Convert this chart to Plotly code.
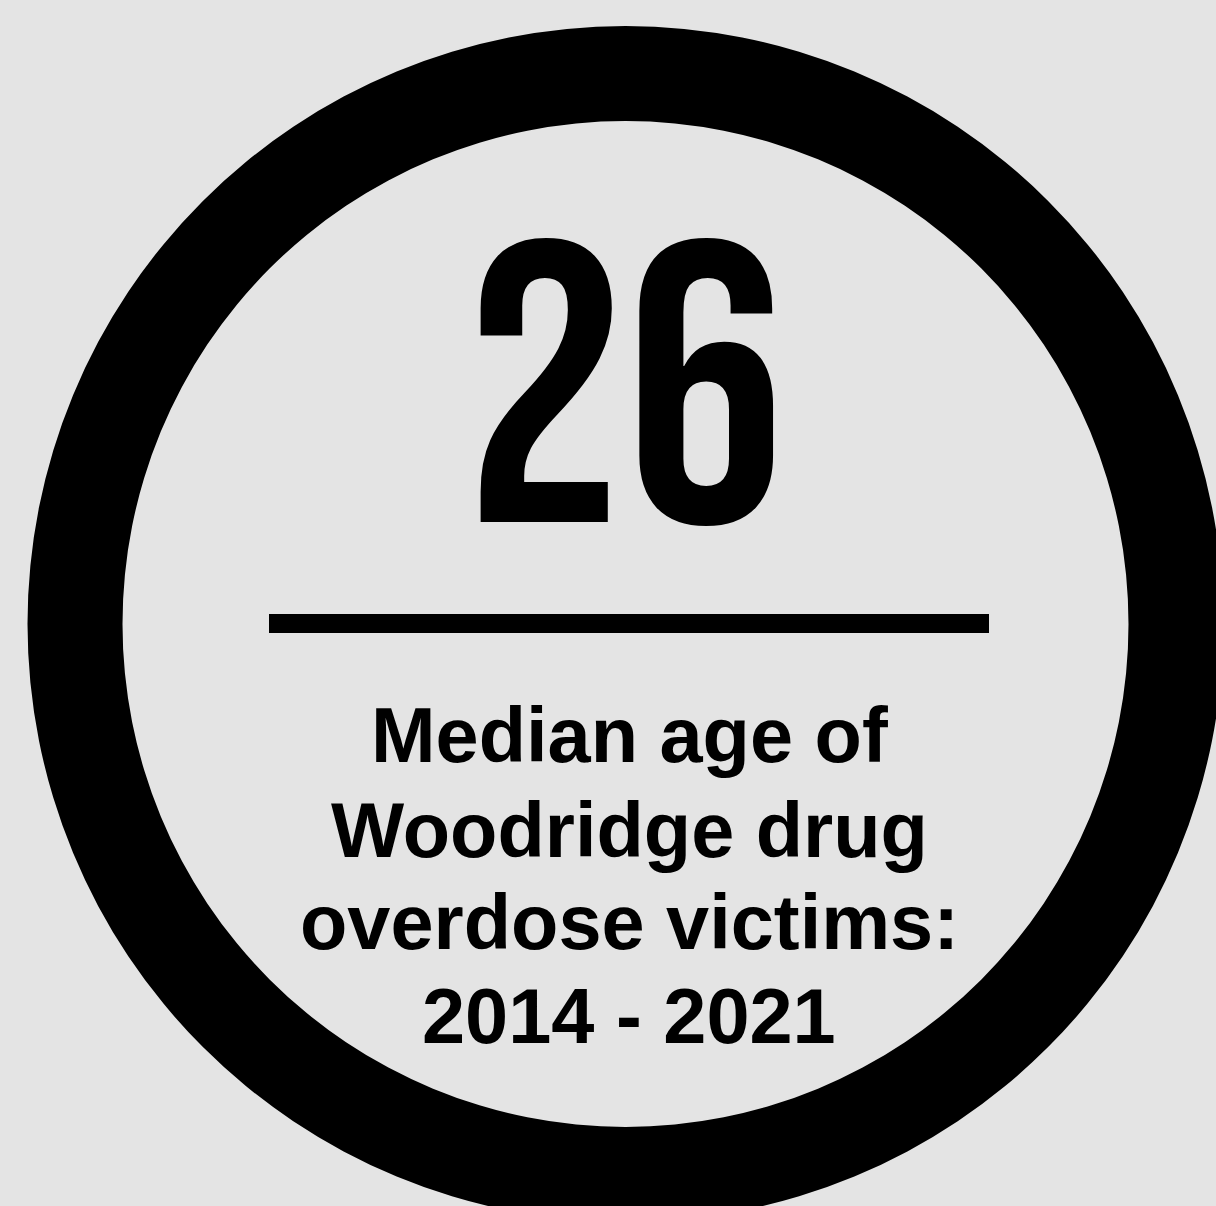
import plotly.graph_objects as go

# ---- data ----
stat_value = ["26"]
label_lines = ["Median age of", "Woodridge drug", "overdose victims:", "2014 - 2021"]
W, H = 1216, 1206
bg = "#e4e4e4"

fig = go.Figure()

# ring (outer black disc + inner background disc)
cx, cy = 625.5, 624
r_out, r_in = 598, 503
fig.add_shape(type="circle", x0=cx - r_out, x1=cx + r_out, y0=cy - r_out, y1=cy + r_out,
              fillcolor="black", line=dict(width=0), layer="below")
fig.add_shape(type="circle", x0=cx - r_in, x1=cx + r_in, y0=cy - r_in, y1=cy + r_in,
              fillcolor=bg, line=dict(width=0), layer="below")
# divider bar
fig.add_shape(type="rect", x0=269, x1=989, y0=614, y1=633, fillcolor="black",
              line=dict(width=0))

fig.add_annotation(x=624.5, y=401.5, text=stat_value[0], showarrow=False,
                   xanchor="center", yanchor="middle",
                   font=dict(family="Bebas Neue, Oswald, sans-serif",
                             size=400, color="black"))

line_y = [735, 830, 922, 1016]
for t, yy in zip(label_lines, line_y):
    fig.add_annotation(x=629, y=yy, text=t, showarrow=False, xanchor="center",
                       yanchor="middle",
                       font=dict(family="Liberation Sans, Arial, sans-serif", size=77.5,
                                 color="black", weight="bold"))

fig.update_xaxes(range=[0, W], visible=False, fixedrange=True)
fig.update_yaxes(range=[H, 0], visible=False, fixedrange=True)
fig.update_layout(width=W, height=H, margin=dict(l=0, r=0, t=0, b=0),
                  paper_bgcolor=bg, plot_bgcolor=bg, showlegend=False)
fig.write_html("out.html", config={"displayModeBar": False, "staticPlot": True},
               post_script="document.body.style.margin='0';document.body.style.overflow='hidden';")
